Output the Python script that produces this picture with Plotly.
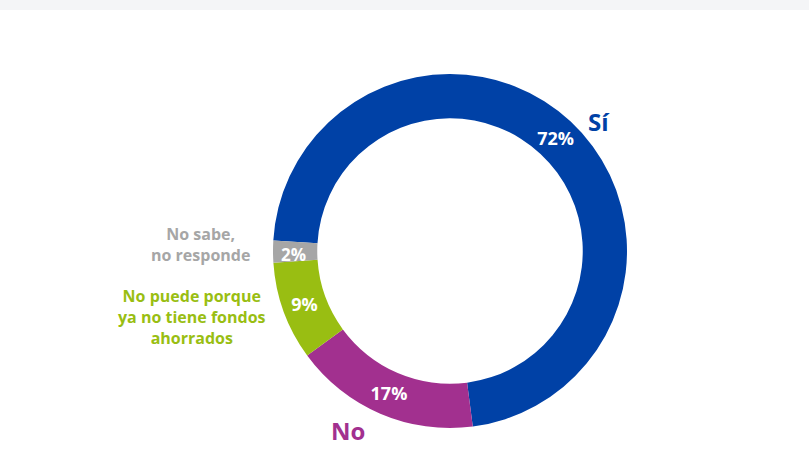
import plotly.graph_objects as go

labels = ['Sí', 'No', 'No puede porque ya no tiene fondos ahorrados', 'No sabe, no responde']
values = [72, 17, 9, 2]
colors = ['#0041a6', '#a2308f', '#99be12', '#a6a6a6']
pct_text = ['72%', '17%', '9%', '']   # the 2% slice is too thin for plotly's inside text, labelled below

W, H = 809, 475
# donut centre / radius in pixels
cx, cy, rad = 450, 251, 177
m_top, m_bot = cy - rad, H - (cy + rad)
plot_h = 2 * rad
FONT = 'Open Sans'


def px_x(x):
    return x / W


def px_y(y):
    return (cy + rad - y) / plot_h


fig = go.Figure(go.Pie(
    labels=labels,
    values=values,
    text=pct_text,
    hole=0.75,
    sort=False,
    direction='clockwise',
    rotation=-86.6,
    marker=dict(colors=colors, line=dict(width=0)),
    texttemplate='%{text}',
    textposition='inside',
    insidetextorientation='horizontal',
    textfont=dict(family=FONT, size=18, color='white', weight='bold'),
    domain=dict(x=[(cx - rad) / W, (cx + rad) / W], y=[0, 1]),
    hoverinfo='label+percent',
))

# outside labels + the label of the thin slice
outside = [
    ('Sí', 599, 121, 24, colors[0]),
    ('No', 348, 430, 24, colors[1]),
    ('No sabe,<br>no responde', 200, 244, 16, colors[3]),
    ('No puede porque<br>ya no tiene fondos<br>ahorrados', 192, 317, 16, colors[2]),
    (f'{values[3]}%', 293, 254, 17, 'white'),
]
for txt, x, y, size, col in outside:
    fig.add_annotation(text=txt, x=px_x(x), y=px_y(y), xref='paper', yref='paper',
                       showarrow=False, align='center', xanchor='center', yanchor='middle',
                       font=dict(family=FONT, size=size, color=col, weight='bold'))

# light strip at the top of the page
fig.add_shape(type='rect', xref='paper', yref='paper', x0=-0.01, x1=1.01,
              y0=px_y(10), y1=px_y(-2), fillcolor='#f4f5f7', line=dict(width=0), layer='below')

fig.update_layout(
    width=W, height=H,
    margin=dict(l=0, r=0, t=m_top, b=m_bot),
    showlegend=False,
    paper_bgcolor='white',
    plot_bgcolor='white',
    uniformtext=dict(minsize=17, mode='show'),
)

# drop the browser's default body margin so the figure sits at the page corner
fig.write_html("out.html", config={'displayModeBar': False},
               post_script="document.body.style.margin='0';")
